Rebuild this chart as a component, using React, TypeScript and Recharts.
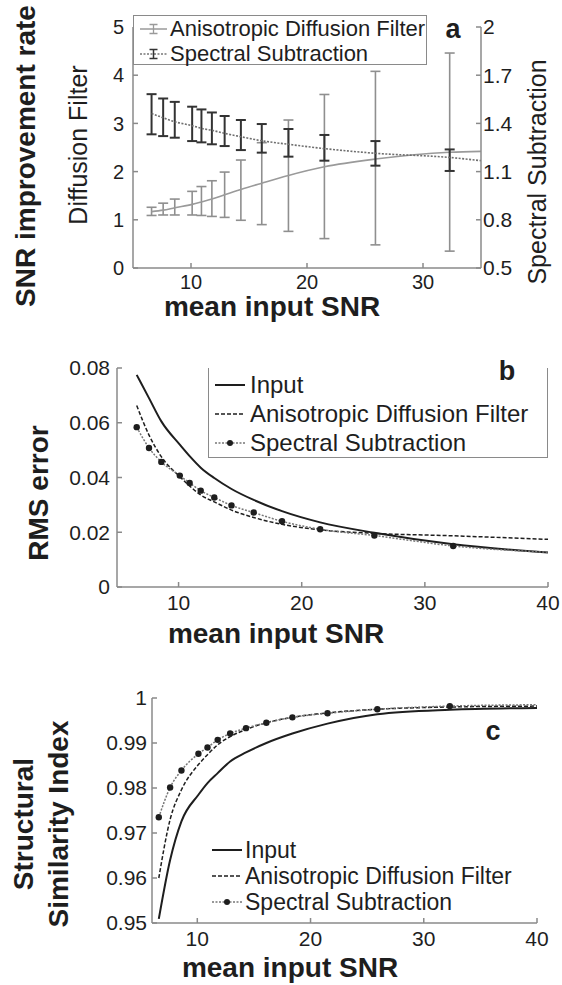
import React from "react";
import { LineChart, Line, XAxis, YAxis, ErrorBar, Legend } from "recharts";

// mean input SNR of the 13 test images (shared by the three panels)
const snrPoints = [6.6, 7.6, 8.6, 10.1, 10.9, 11.8, 12.9, 14.3, 16.1, 18.4, 21.5, 25.9, 32.3];
// the fitted curves run on to the right edge of each panel
const curveEndA = 35;
const curveEndBC = 40;

// panel a: SNR improvement rate (mean curve + error bar ends)
const adfRate = [1.17, 1.2, 1.25, 1.32, 1.37, 1.43, 1.52, 1.63, 1.76, 1.92, 2.1, 2.26, 2.4, 2.42];
const adfRateLow = [1.09, 1.1, 1.1, 1.1, 1.09, 1.07, 1.05, 0.99, 0.9, 0.76, 0.61, 0.48, 0.35];
const adfRateHigh = [1.26, 1.345, 1.43, 1.59, 1.69, 1.81, 1.99, 2.24, 2.6, 3.07, 3.6, 4.08, 4.46];
const ssRate = [1.462, 1.435, 1.41, 1.386, 1.369, 1.357, 1.338, 1.317, 1.292, 1.27, 1.243, 1.214, 1.188, 1.168];
const ssRateLow = [1.332, 1.321, 1.311, 1.29, 1.282, 1.27, 1.259, 1.234, 1.218, 1.193, 1.168, 1.137, 1.104];
const ssRateHigh = [1.582, 1.555, 1.534, 1.504, 1.487, 1.468, 1.446, 1.421, 1.396, 1.365, 1.328, 1.29, 1.238];

// panel b: RMS error
const rmsInput = [0.0775, 0.069, 0.0605, 0.052, 0.0478, 0.0436, 0.0398, 0.0358, 0.0318, 0.0277, 0.0236, 0.0198, 0.0156, 0.0126];
const rmsAdf = [0.0663, 0.0555, 0.0476, 0.0403, 0.0369, 0.0336, 0.0311, 0.0281, 0.0254, 0.0229, 0.0209, 0.0196, 0.0187, 0.0174];
const rmsSs = [0.0584, 0.0508, 0.0457, 0.0407, 0.038, 0.0352, 0.0327, 0.0298, 0.0272, 0.024, 0.0211, 0.0188, 0.015, 0.0127];

// panel c: structural similarity index
const ssimInput = [0.9509, 0.964, 0.9726, 0.9785, 0.9811, 0.9833, 0.9859, 0.9879, 0.99, 0.9921, 0.9943, 0.9964, 0.9974, 0.9978];
const ssimAdf = [0.96, 0.973, 0.9796, 0.9852, 0.9874, 0.9896, 0.9914, 0.993, 0.9945, 0.9957, 0.9967, 0.9975, 0.998, 0.9982];
const ssimSs = [0.9735, 0.9801, 0.9839, 0.9876, 0.989, 0.9907, 0.9921, 0.9933, 0.9945, 0.9957, 0.9966, 0.9975, 0.9982, 0.9985];

const snrTicksA = [10, 20, 30];
const snrTicksBC = [10, 20, 30, 40];
const rateTicksLeft = [0, 1, 2, 3, 4, 5];
const rateTicksRight = [0.5, 0.8, 1.1, 1.4, 1.7, 2];
const rmsTicks = [0, 0.02, 0.04, 0.06, 0.08];
const ssimTicks = [0.95, 0.96, 0.97, 0.98, 0.99, 1];

const FONT = '"Liberation Sans", Arial, Helvetica, sans-serif';
const ink = "#1e1e1e";
const axisGray = "#8a8a8a";

const fmt = (v: number) => String(Number(v.toFixed(2)));

const dataA = [...snrPoints, curveEndA].map((x, i) => ({
  x,
  adf: adfRate[i],
  ss: ssRate[i],
  adfErr: i < snrPoints.length ? [adfRate[i] - adfRateLow[i], adfRateHigh[i] - adfRate[i]] : undefined,
  ssErr: i < snrPoints.length ? [ssRate[i] - ssRateLow[i], ssRateHigh[i] - ssRate[i]] : undefined,
}));

const dataB = [...snrPoints, curveEndBC].map((x, i) => ({
  x,
  input: rmsInput[i],
  adf: rmsAdf[i],
  ss: rmsSs[i],
}));

const dataC = [...snrPoints, curveEndBC].map((x, i) => ({
  x,
  input: ssimInput[i],
  adf: ssimAdf[i],
  ss: ssimSs[i],
}));

// markers only on the measured points, not on the curve's end
const ssDot = (props: any) => {
  const { cx, cy, index } = props;
  if (index >= snrPoints.length || cx == null) return <g key={`d${index}`} />;
  return <circle key={`d${index}`} cx={cx} cy={cy} r={3.2} fill={ink} />;
};

function Icon({ kind, w }: { kind: string; w: number }) {
  const m = 6;
  return (
    <svg width={w} height={12} style={{ flex: "none" }}>
      {kind === "solid" && <line x1={0} y1={m} x2={w} y2={m} stroke={ink} strokeWidth={2} />}
      {kind === "dashed" && <line x1={0} y1={m} x2={w} y2={m} stroke={ink} strokeWidth={1.5} strokeDasharray="4 2" />}
      {kind === "marker" && (
        <>
          <line x1={0} y1={m} x2={w} y2={m} stroke="#777" strokeWidth={1.5} strokeDasharray="2 1.5" />
          <circle cx={w / 2} cy={m} r={3} fill={ink} />
        </>
      )}
      {kind === "errSolid" && (
        <>
          <line x1={0} y1={m} x2={w} y2={m} stroke="#9a9a9a" strokeWidth={1.5} />
          <path d={`M${w / 2 - 4},1.5H${w / 2 + 4}M${w / 2},1.5V10.5M${w / 2 - 4},10.5H${w / 2 + 4}`} stroke="#9a9a9a" strokeWidth={1.3} fill="none" />
        </>
      )}
      {kind === "errDotted" && (
        <>
          <line x1={0} y1={m} x2={w} y2={m} stroke="#777" strokeWidth={1.5} strokeDasharray="2 1.5" />
          <path d={`M${w / 2 - 4},1.5H${w / 2 + 4}M${w / 2},1.5V10.5M${w / 2 - 4},10.5H${w / 2 + 4}`} stroke="#333" strokeWidth={1.5} fill="none" />
        </>
      )}
    </svg>
  );
}

type Row = { label: string; kind: string };

function LegendBox({ rows, box, rowH, iconW, gap, padL, fontSize, borderTop }: any) {
  return (
    <div
      style={{
        width: box.w,
        height: box.h,
        boxSizing: "border-box",
        background: box.border ? "#fff" : "transparent",
        borderLeft: box.border ? `1.5px solid ${axisGray}` : "none",
        borderRight: box.border ? `1.5px solid ${axisGray}` : "none",
        borderBottom: box.border ? `1.5px solid ${axisGray}` : "none",
        borderTop: box.border && borderTop ? `1.5px solid ${axisGray}` : "none",
        paddingTop: box.padT || 0,
        fontFamily: FONT,
        color: ink,
      }}
    >
      {rows.map((r: Row) => (
        <div key={r.label} style={{ height: rowH, display: "flex", alignItems: "center", paddingLeft: padL }}>
          <Icon kind={r.kind} w={iconW} />
          <span style={{ marginLeft: gap, fontSize, lineHeight: 1, whiteSpace: "nowrap" }}>{r.label}</span>
        </div>
      ))}
    </div>
  );
}

const rowsA: Row[] = [
  { label: "Anisotropic Diffusion Filter", kind: "errSolid" },
  { label: "Spectral Subtraction", kind: "errDotted" },
];
const rowsBC: Row[] = [
  { label: "Input", kind: "solid" },
  { label: "Anisotropic Diffusion Filter", kind: "dashed" },
  { label: "Spectral Subtraction", kind: "marker" },
];

const tickFont = (size: number) => ({ fill: ink, fontSize: size, fontFamily: FONT });
const bold = { fontFamily: FONT, fontWeight: 700, fill: ink } as const;
const overlay = { position: "absolute", left: 0, top: 0, pointerEvents: "none", overflow: "visible" } as const;

function PanelA() {
  return (
    <div style={{ position: "absolute", left: 0, top: 0, width: 562, height: 320 }}>
      <LineChart width={562} height={320} data={dataA} margin={{ top: 27, right: 31, bottom: 22, left: 83 }}>
        <XAxis type="number" dataKey="x" domain={[5, curveEndA]} ticks={snrTicksA} allowDataOverflow height={30}
          stroke={axisGray} strokeWidth={1.5} tickSize={-5} tickMargin={12} tick={tickFont(20)} />
        <YAxis yAxisId="left" domain={[0, 5]} ticks={rateTicksLeft} width={50} stroke={axisGray} strokeWidth={1.5}
          tickSize={-5} tickMargin={14} tick={tickFont(20)} tickFormatter={fmt} />
        <YAxis yAxisId="right" orientation="right" domain={[0.5, 2]} ticks={rateTicksRight} width={50}
          stroke={axisGray} strokeWidth={1.5} tickSize={-5} tickMargin={7} tick={tickFont(21)} tickFormatter={fmt} />
        <Line yAxisId="left" type="monotone" dataKey="adf" stroke="#9a9a9a" strokeWidth={1.6} dot={false} isAnimationActive={false}>
          <ErrorBar dataKey="adfErr" direction="y" width={5} stroke="#8f8f8f" strokeWidth={1.6} />
        </Line>
        <Line yAxisId="right" type="monotone" dataKey="ss" stroke="#6e6e6e" strokeWidth={1.6} strokeDasharray="2 1.5" dot={false} isAnimationActive={false}>
          <ErrorBar dataKey="ssErr" direction="y" width={5} stroke="#333" strokeWidth={2} />
        </Line>
        <Legend layout="vertical" align="center" verticalAlign="middle"
          wrapperStyle={{ left: 133, top: 15, width: 294, height: 50 }}
          content={() => (
            <LegendBox rows={rowsA} box={{ w: 294, h: 50, border: true }} borderTop rowH={25} iconW={27} gap={3} padL={6} fontSize={22} />
          )} />
      </LineChart>
      <svg width={562} height={330} style={overlay}>
        <text transform="translate(35,156) rotate(-90)" textAnchor="middle" fontSize={28} {...bold}>SNR improvement rate</text>
        <text transform="translate(87,145) rotate(-90)" textAnchor="middle" fontSize={25} fontFamily={FONT} fill={ink}>Diffusion Filter</text>
        <text transform="translate(546,172) rotate(-90)" textAnchor="middle" fontSize={25} fontFamily={FONT} fill={ink}>Spectral Subtraction</text>
        <text x={272} y={316} textAnchor="middle" fontSize={28} {...bold}>mean input SNR</text>
        <text x={453} y={38} textAnchor="middle" fontSize={27} {...bold}>a</text>
      </svg>
    </div>
  );
}

function PanelB() {
  return (
    <div style={{ position: "absolute", left: 0, top: 320, width: 562, height: 340 }}>
      <LineChart width={562} height={340} data={dataB} margin={{ top: 48, right: 14, bottom: 43, left: 57 }}>
        <XAxis type="number" dataKey="x" domain={[5, curveEndBC]} ticks={snrTicksBC} allowDataOverflow height={30}
          stroke={axisGray} strokeWidth={1.5} tickSize={-5} tickMargin={13} tick={tickFont(21)} />
        <XAxis xAxisId="top" orientation="top" type="number" dataKey="x" domain={[5, curveEndBC]} ticks={snrTicksBC}
          allowDataOverflow height={0} stroke={axisGray} strokeWidth={1.5} tickSize={-5} tick={false} />
        <YAxis domain={[0, 0.08]} ticks={rmsTicks} width={60} stroke={axisGray} strokeWidth={1.5}
          tickSize={-5} tickMargin={12} tick={tickFont(21)} tickFormatter={fmt} />
        <YAxis yAxisId="box" orientation="right" domain={[0, 0.08]} ticks={rmsTicks} width={0} stroke={axisGray}
          strokeWidth={1.5} tickSize={-5} tick={false} />
        <Line type="monotone" dataKey="input" stroke={ink} strokeWidth={2} dot={false} isAnimationActive={false} />
        <Line type="monotone" dataKey="adf" stroke={ink} strokeWidth={1.5} strokeDasharray="4 2" dot={false} isAnimationActive={false} />
        <Line type="monotone" dataKey="ss" stroke="#777" strokeWidth={1.5} strokeDasharray="2 1.5" dot={ssDot} isAnimationActive={false} />
        <Legend layout="vertical" align="center" verticalAlign="middle"
          wrapperStyle={{ left: 208, top: 48, width: 340, height: 90 }}
          content={() => (
            <LegendBox rows={rowsBC} box={{ w: 340, h: 90, border: true, padT: 2 }} rowH={29} iconW={30} gap={5} padL={6} fontSize={24} />
          )} />
      </LineChart>
      <svg width={562} height={340} style={overlay}>
        <text transform="translate(48,173) rotate(-90)" textAnchor="middle" fontSize={28} {...bold}>RMS error</text>
        <text x={276} y={323} textAnchor="middle" fontSize={28} {...bold}>mean input SNR</text>
        <rect x={470} y={44} width={76} height={8} fill="#fff" />
        <text x={507} y={60} textAnchor="middle" fontSize={27} {...bold}>b</text>
      </svg>
    </div>
  );
}

function PanelC() {
  return (
    <div style={{ position: "absolute", left: 0, top: 660, width: 562, height: 325 }}>
      <LineChart width={562} height={325} data={dataC} margin={{ top: 38, right: 25, bottom: 32, left: 82 }}>
        <XAxis type="number" dataKey="x" domain={[6, curveEndBC]} ticks={snrTicksBC} allowDataOverflow height={30}
          stroke={axisGray} strokeWidth={1.5} tickSize={-5} tickMargin={13} tick={tickFont(21)} />
        <XAxis xAxisId="top" orientation="top" type="number" dataKey="x" domain={[6, curveEndBC]} ticks={snrTicksBC}
          allowDataOverflow height={0} stroke={axisGray} strokeWidth={1.5} tickSize={-5} tick={false} />
        <YAxis domain={[0.95, 1]} ticks={ssimTicks} width={70} stroke={axisGray} strokeWidth={1.5}
          tickSize={-5} tickMargin={10} tick={tickFont(21)} tickFormatter={fmt} allowDataOverflow />
        <YAxis yAxisId="box" orientation="right" domain={[0.95, 1]} ticks={ssimTicks} width={0} stroke={axisGray}
          strokeWidth={1.5} tickSize={-5} tick={false} />
        <Line type="monotone" dataKey="input" stroke={ink} strokeWidth={2} dot={false} isAnimationActive={false} />
        <Line type="monotone" dataKey="adf" stroke={ink} strokeWidth={1.5} strokeDasharray="4 2" dot={false} isAnimationActive={false} />
        <Line type="monotone" dataKey="ss" stroke="#777" strokeWidth={1.5} strokeDasharray="2 1.5" dot={ssDot} isAnimationActive={false} />
        <Legend layout="vertical" align="center" verticalAlign="middle"
          wrapperStyle={{ left: 206, top: 177, width: 320, height: 78 }}
          content={() => (
            <LegendBox rows={rowsBC} box={{ w: 320, h: 78, border: false }} rowH={26} iconW={30} gap={3} padL={6} fontSize={23} />
          )} />
      </LineChart>
      <svg width={562} height={325} style={overlay}>
        <text transform="translate(33,164) rotate(-90)" textAnchor="middle" fontSize={28} {...bold}>Structural</text>
        <text transform="translate(68,164) rotate(-90)" textAnchor="middle" fontSize={28} {...bold}>Similarity Index</text>
        <text x={290} y={317} textAnchor="middle" fontSize={28} {...bold}>mean input SNR</text>
        <text x={493} y={80} textAnchor="middle" fontSize={27} {...bold}>c</text>
      </svg>
    </div>
  );
}

export default function App() {
  return (
    <div style={{ position: "absolute", left: 0, top: 0, width: 562, height: 985, background: "#fff" }}>
      <PanelA />
      <PanelB />
      <PanelC />
    </div>
  );
}
